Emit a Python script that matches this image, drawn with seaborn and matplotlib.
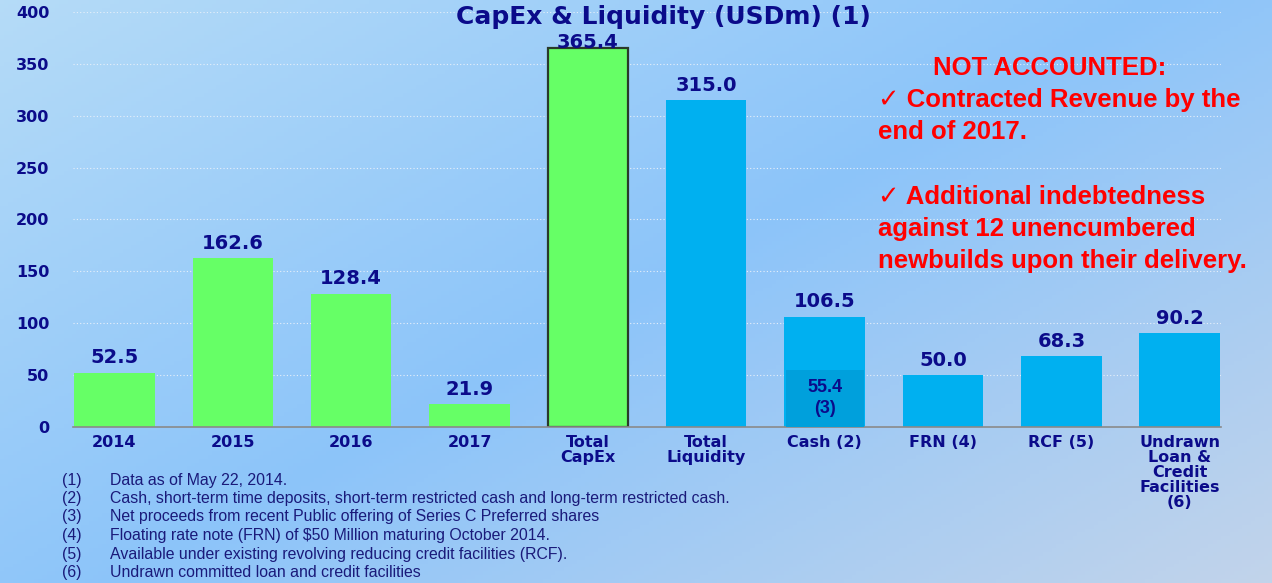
import numpy as np
import pandas as pd
import matplotlib
matplotlib.use('Agg')
import matplotlib.pyplot as plt
import seaborn as sns

# chart data
categories = ['2014', '2015', '2016', '2017', 'Total\nCapEx', 'Total\nLiquidity',
              'Cash (2)', 'FRN (4)', 'RCF (5)',
              'Undrawn\nLoan &\nCredit\nFacilities\n(6)']
values = [52.5, 162.6, 128.4, 21.9, 365.4, 315.0, 106.5, 50.0, 68.3, 90.2]
groups = ['CapEx'] * 5 + ['Liquidity'] * 5
total_capex_category = 'Total\nCapEx'
cash_pref_category = 'Cash (2)'
cash_pref_value = 55.4
yticks = [0, 50, 100, 150, 200, 250, 300, 350, 400]

footnotes = [
    ('(1)', 'Data as of May 22, 2014.'),
    ('(2)', 'Cash, short-term time deposits, short-term restricted cash and long-term restricted cash.'),
    ('(3)', 'Net proceeds from recent Public offering of Series C Preferred shares'),
    ('(4)', 'Floating rate note (FRN) of $50 Million maturing October 2014.'),
    ('(5)', 'Available under existing revolving reducing credit facilities (RCF).'),
    ('(6)', 'Undrawn committed loan and credit facilities'),
]
note_lines = ['NOT ACCOUNTED:',
              '\u2713 Contracted Revenue by the',
              'end of 2017.',
              '',
              '\u2713 Additional indebtedness',
              'against 12 unencumbered',
              'newbuilds upon their delivery.']

NAVY = '#0B0B8A'
GREEN = '#66FF66'
BLUE = '#00B0F0'
BLUE_DARK = '#00A0DC'

df = pd.DataFrame({'cat': categories, 'val': values, 'grp': groups})
df_pref = pd.DataFrame({'cat': [cash_pref_category], 'val': [cash_pref_value]})

sns.set_style('white')
plt.rcParams['font.family'] = ['DejaVu Sans']

fig = plt.figure(figsize=(12.72, 5.83), dpi=100)

# gradient background
bg = fig.add_axes([0, 0, 1, 1], zorder=-10)
gx, gy = np.meshgrid(np.linspace(0, 1, 300), np.linspace(0, 1, 150))
t = np.clip(0.55 * gx + 0.45 * gy, 0, 1)
c0 = np.array([0.71, 0.86, 0.97])
c1 = np.array([0.55, 0.77, 0.98])
c2 = np.array([0.76, 0.83, 0.92])
w = np.where(t < 0.5, t / 0.5, (t - 0.5) / 0.5)[..., None]
img = np.where((t < 0.5)[..., None], c0 * (1 - w) + c1 * w, c1 * (1 - w) + c2 * w)
bg.imshow(img, aspect='auto', extent=[0, 1, 0, 1], origin='upper')
bg.axis('off')

ax = fig.add_axes([0.0574, 0.2676, 0.9026, 0.7118])
ax.patch.set_alpha(0)

sns.barplot(data=df, x='cat', y='val', hue='grp', order=categories,
            palette={'CapEx': GREEN, 'Liquidity': BLUE}, dodge=False,
            width=0.68, saturation=1, legend=False, linewidth=0, ax=ax, zorder=2)

# value labels; the Total CapEx label sits on the bar top like the original
for cont in ax.containers:
    labs, top_labs = [], []
    for bar in cont:
        h = bar.get_height()
        idx = int(round(bar.get_x() + bar.get_width() / 2))
        if np.isnan(h) or h == 0:
            labs.append('')
            top_labs.append('')
        elif categories[idx] == total_capex_category:
            bar.set_edgecolor('#2A3A2A')
            bar.set_linewidth(1.6)
            labs.append('')
            top_labs.append(f'{h:.1f}')
        else:
            labs.append(f'{h:.1f}')
            top_labs.append('')
    ax.bar_label(cont, labels=labs, padding=4, color=NAVY, fontsize=14,
                 fontweight='bold')
    ax.bar_label(cont, labels=top_labs, padding=-3, color=NAVY, fontsize=14,
                 fontweight='bold')

sns.barplot(data=df_pref, x='cat', y='val', order=categories, color=BLUE_DARK,
            width=0.66, saturation=1, linewidth=0, ax=ax, zorder=3)
ci = categories.index(cash_pref_category)
ax.text(ci, cash_pref_value / 2, f'{cash_pref_value}\n(3)', ha='center',
        va='center', color=NAVY, fontsize=13, fontweight='bold',
        family=['Liberation Sans'], linespacing=1.3, zorder=4)

ax.set_xlim(-0.35, len(categories) - 0.65)
ax.set_ylim(0, 400)
ax.set_yticks(yticks)
ax.set_xlabel('')
ax.set_ylabel('')
ax.yaxis.grid(True, linestyle=(0, (1, 2)), color='#E8F0FA', linewidth=0.8, zorder=0)
ax.set_axisbelow(True)
for s in ['top', 'right', 'left']:
    ax.spines[s].set_visible(False)
ax.spines['bottom'].set_color('#8A8A8A')
ax.spines['bottom'].set_linewidth(1.2)
ax.tick_params(axis='y', length=0, pad=17, labelsize=11.5, labelcolor=NAVY)
ax.tick_params(axis='x', length=0, pad=6, labelsize=11.5, labelcolor=NAVY)
for lab in ax.get_yticklabels() + ax.get_xticklabels():
    lab.set_fontweight('bold')
for lab in ax.get_xticklabels():
    lab.set_linespacing(1.0)

fig.text(663 / 1272, 1 - 17 / 583, 'CapEx & Liquidity (USDm) (1)', ha='center',
         va='center', color=NAVY, fontsize=18, fontweight='bold')

# red note text
red_font = ['Liberation Sans', 'DejaVu Sans']
y0 = 68
for i, line in enumerate(note_lines):
    if not line:
        continue
    if i == 0:
        fig.text(1050 / 1272, 1 - y0 / 583, line, ha='center', va='center',
                 color='#FF0000', fontsize=18.5, fontweight='bold', family=red_font)
    else:
        fig.text(878 / 1272, 1 - (y0 + 32.2 * i) / 583, line, ha='left', va='center',
                 color='#FF0000', fontsize=18.5, fontweight='bold', family=red_font)

# footnotes
fn_font = ['Liberation Sans Narrow', 'Liberation Sans']
for i, (num, txt) in enumerate(footnotes):
    yy = 1 - (480 + 18.5 * i) / 583
    fig.text(62 / 1272, yy, num, ha='left', va='center', color='#1A1A7A',
             fontsize=11.4, family=fn_font)
    fig.text(110 / 1272, yy, txt, ha='left', va='center', color='#1A1A7A',
             fontsize=11.4, family=fn_font)

fig.savefig('out.png', dpi=100)
